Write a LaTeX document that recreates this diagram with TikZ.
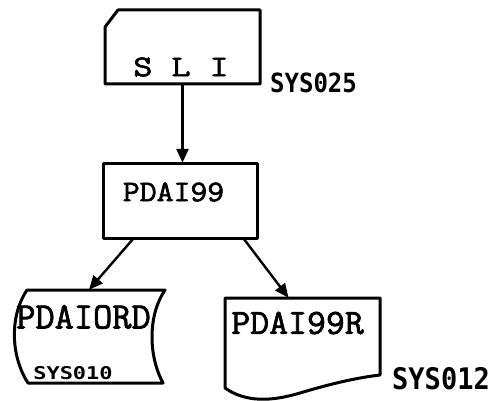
\documentclass[tikz,border=0pt]{standalone}
\usepackage{fontspec}
\usepackage{graphicx}
\usetikzlibrary{arrows.meta,calc}
\newfontfamily\tw[FakeBold=2]{Latin Modern Mono}
\newfontfamily\hw{DejaVu Sans Mono}
\begin{document}
\begin{tikzpicture}[x=1pt,y=-1pt,
  outline/.style={line width=3pt, line join=round},
  conn/.style={line width=2.4pt, -{Triangle[length=14pt,width=12pt]}},
  frame/.style={inner sep=0pt, draw=none},
  typed/.style={inner sep=0pt},
  hand/.style={inner sep=0pt}]
\useasboundingbox (0,0) rectangle (492,401);
% frames (invisible nodes carrying the names)
\node[frame, minimum width=155pt, minimum height=74pt] (sli) at (182.5,47) {};
\node[frame, minimum width=154pt, minimum height=75pt] (pdai) at (180,200.5) {};
\node[frame, minimum width=152pt, minimum height=93pt] (ord) at (89,336.5) {};
\node[frame, minimum width=155pt, minimum height=102pt] (rep) at (302.5,349) {};
% outlines
\draw[outline] (105,27) -- (118,10) -- (260,10) -- (260,84) -- (105,84) -- cycle;
\draw[outline] (103,163) rectangle (257,238);
\draw[outline] (27,290) -- (165,290) .. controls (148,315) and (148,355) .. (163,383)
  -- (28,383) .. controls (10,355) and (10,315) .. cycle;
\draw[outline] (225,298) -- (380,298) -- (380,375)
  .. controls (355,378) and (330,384) .. (300,393)
  .. controls (270,402) and (245,402) .. (225,388) -- cycle;
% connectors
\draw[conn] (sli.south) -- (sli.south |- pdai.north);
\draw[conn] ($(pdai.south west)!0.2!(pdai.south east)$) -- (ord.north);
\draw[conn] ($(pdai.south west)!0.91!(pdai.south east)$) -- ($(rep.north west)!0.41!(rep.north east)$);
% typed texts
\node[typed, font=\tw\fontsize{37}{37}\selectfont] (slit) at (181,67) {\scalebox{1}[0.81]{S L I}};
\node[typed, font=\tw\fontsize{32.8}{33}\selectfont] (pdait) at (173.5,192) {\scalebox{1}[0.91]{PDAI99}};
\node[typed, font=\tw\fontsize{37.3}{37}\selectfont] (ordt) at (83.5,317) {PDAIORD};
\node[typed, font=\tw\fontsize{36.8}{37}\selectfont] (rept) at (297.5,323) {\scalebox{1}[0.96]{PDAI99R}};
% handwritten labels
\node[hand, font=\hw\bfseries\fontsize{24}{24}\selectfont] (l1) at (313.5,83) {\scalebox{1}[1.1]{SYS025}};
\node[hand, font=\hw\bfseries\fontsize{22}{22}\selectfont] (l2) at (73,373) {\scalebox{1}[0.8]{SYS010}};
\node[hand, font=\hw\bfseries\fontsize{27}{27}\selectfont] (l3) at (441,379) {\scalebox{1}[1.1]{SYS012}};
\end{tikzpicture}
\end{document}
